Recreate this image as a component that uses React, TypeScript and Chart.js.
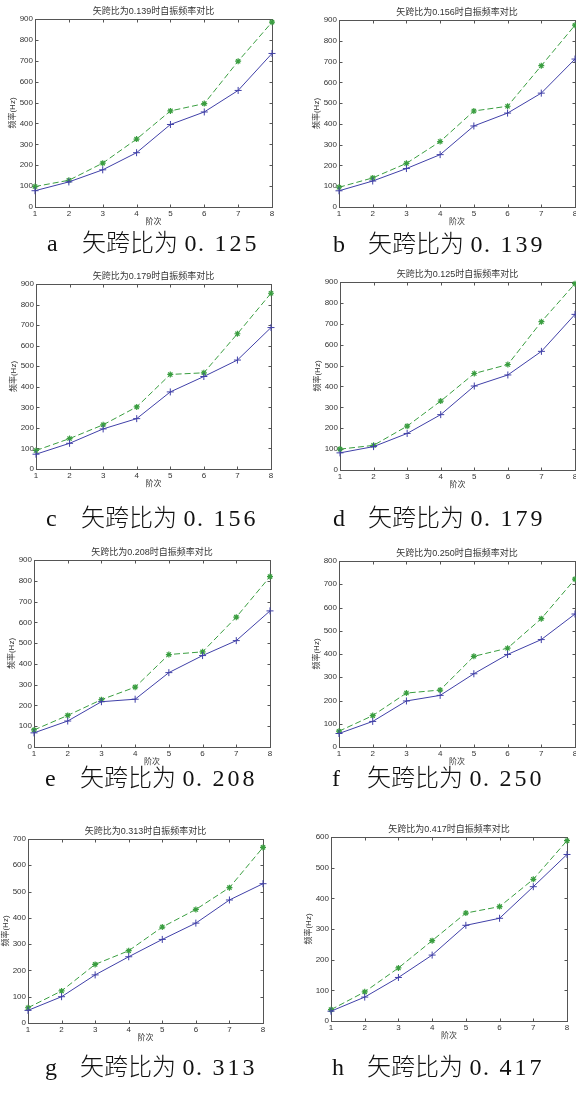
import React, { useEffect, useRef } from "react";
import { Chart, registerables } from "chart.js";
Chart.register(...registerables);

// ---------- data ----------
const orders = [1, 2, 3, 4, 5, 6, 7, 8];

const blueA = [78, 120, 178, 260, 395, 455, 558, 735];
const greenA = [98, 128, 210, 325, 460, 495, 698, 885];
const blueB = [78, 125, 185, 252, 390, 452, 548, 712];
const greenB = [95, 140, 210, 315, 462, 485, 680, 875];
const blueC = [72, 125, 195, 245, 375, 450, 530, 688];
const greenC = [90, 148, 215, 302, 460, 468, 658, 855];
const blueD = [82, 112, 175, 265, 402, 455, 568, 745];
const greenD = [100, 118, 210, 330, 462, 505, 710, 892];
const blueE = [68, 125, 218, 230, 358, 440, 512, 655];
const greenE = [82, 152, 228, 288, 445, 458, 625, 820];
const blueF = [58, 110, 198, 222, 315, 398, 462, 572];
const greenF = [68, 135, 232, 245, 390, 425, 552, 722];
const blueG = [48, 100, 183, 252, 318, 380, 468, 530];
const greenG = [58, 122, 223, 275, 365, 432, 515, 668];
const blueH = [32, 78, 142, 215, 312, 335, 438, 543];
const greenH = [37, 95, 173, 262, 352, 373, 462, 588];

const titles = [
  "矢跨比为0.139时自振频率对比",
  "矢跨比为0.156时自振频率对比",
  "矢跨比为0.179时自振频率对比",
  "矢跨比为0.125时自振频率对比",
  "矢跨比为0.208时自振频率对比",
  "矢跨比为0.250时自振频率对比",
  "矢跨比为0.313时自振频率对比",
  "矢跨比为0.417时自振频率对比",
];
const captionLetters = ["a", "b", "c", "d", "e", "f", "g", "h"];
const captionValues = ["0.125", "0.139", "0.156", "0.179", "0.208", "0.250", "0.313", "0.417"];
const yMaxes = [900, 900, 900, 900, 900, 800, 700, 600];
const xTitle = "阶次";
const yTitle = "频率(Hz)";

const blues = [blueA, blueB, blueC, blueD, blueE, blueF, blueG, blueH];
const greens = [greenA, greenB, greenC, greenD, greenE, greenF, greenG, greenH];

// ---------- layout (page px) ----------
// plot rectangles: [left, top, right, bottom]
const plotRects = [
  [35, 19, 272, 207],
  [339, 20, 575, 207],
  [36, 284, 271, 469],
  [340, 282, 575, 470],
  [34, 560, 270, 747],
  [339, 561, 575, 747],
  [28, 839, 263, 1023],
  [331, 837, 567, 1021],
];
// caption: [letterX, centerY]
const captionPos = [
  [47, 242],
  [333, 243],
  [46, 517],
  [333, 517],
  [45, 777],
  [332, 777],
  [45, 1066],
  [332, 1066],
];

const PAD_L = 40;
const PAD_T = 20;
const PAD_R = 8;
const PAD_B = 30;

const BLUE = "#4040a8";
const GREEN = "#3a9e40";
const AXIS = "#555";
const TEXT = "#333";
const SANS = '"Liberation Sans", "Noto Sans CJK SC", sans-serif';

const framePlugin = {
  id: "matlabFrame",
  beforeDatasetsDraw(chart: any) {
    const { ctx, chartArea: a, scales } = chart;
    const l = Math.round(a.left) + 0.5;
    const t = Math.round(a.top) + 0.5;
    const r = Math.round(a.right) + 0.5;
    const b = Math.round(a.bottom) + 0.5;
    ctx.save();
    ctx.strokeStyle = AXIS;
    ctx.lineWidth = 1;
    ctx.strokeRect(l, t, r - l, b - t);
    const TL = 3;
    ctx.beginPath();
    scales.x.ticks.forEach((tk: any) => {
      const x = Math.round(scales.x.getPixelForValue(tk.value)) + 0.5;
      ctx.moveTo(x, b);
      ctx.lineTo(x, b - TL);
      ctx.moveTo(x, t);
      ctx.lineTo(x, t + TL);
    });
    scales.y.ticks.forEach((tk: any) => {
      const y = Math.round(scales.y.getPixelForValue(tk.value)) + 0.5;
      ctx.moveTo(l, y);
      ctx.lineTo(l + TL, y);
      ctx.moveTo(r, y);
      ctx.lineTo(r - TL, y);
    });
    ctx.stroke();
    ctx.restore();
  },
  afterDraw(chart: any) {
    const { ctx, chartArea: a } = chart;
    const title = chart.options.plugins.matlabFrame.title;
    const midX = (a.left + a.right) / 2;
    const midY = (a.top + a.bottom) / 2;
    ctx.save();
    ctx.fillStyle = TEXT;
    ctx.textAlign = "center";
    ctx.textBaseline = "middle";
    ctx.font = `9px ${SANS}`;
    ctx.fillText(title, midX, a.top - 7);
    ctx.font = `8px ${SANS}`;
    ctx.fillText(xTitle, midX, a.bottom + 15);
    ctx.translate(a.left - 22, midY);
    ctx.rotate(-Math.PI / 2);
    ctx.fillText(yTitle, 0, 0);
    ctx.restore();
  },
};

function Panel({ idx }: { idx: number }) {
  const ref = useRef<HTMLCanvasElement | null>(null);
  const [L, T, R, B] = plotRects[idx];
  const W = R - L + PAD_L + PAD_R;
  const H = B - T + PAD_T + PAD_B;

  useEffect(() => {
    if (!ref.current) return;
    const chart = new Chart(ref.current, {
      type: "line",
      data: {
        datasets: [
          {
            data: orders.map((o, i) => ({ x: o, y: blues[idx][i] })),
            borderColor: BLUE,
            backgroundColor: BLUE,
            borderWidth: 1,
            pointStyle: "cross",
            pointRadius: 3.5,
            pointBorderWidth: 1,
            pointBorderColor: BLUE,
            fill: false,
            tension: 0,
            clip: false,
          },
          {
            data: orders.map((o, i) => ({ x: o, y: greens[idx][i] })),
            borderColor: GREEN,
            backgroundColor: GREEN,
            borderWidth: 1,
            borderDash: [6, 3],
            pointStyle: "star",
            pointRadius: 3,
            pointBorderWidth: 1.2,
            pointBorderColor: GREEN,
            fill: false,
            tension: 0,
            clip: false,
          },
        ],
      },
      options: {
        animation: false,
        responsive: false,
        devicePixelRatio: 1,
        layout: { padding: { left: 0, top: PAD_T, right: PAD_R, bottom: 0 } },
        plugins: {
          legend: { display: false },
          tooltip: { enabled: false },
          matlabFrame: { title: titles[idx] },
        } as any,
        scales: {
          x: {
            type: "linear",
            min: 1,
            max: 8,
            grid: { display: false, drawTicks: false },
            border: { display: false },
            ticks: {
              stepSize: 1,
              padding: 2,
              color: TEXT,
              font: { family: SANS, size: 8 },
              maxRotation: 0,
            },
            afterFit(scale: any) {
              scale.height = PAD_B;
            },
          },
          y: {
            type: "linear",
            min: 0,
            max: yMaxes[idx],
            grid: { display: false, drawTicks: false },
            border: { display: false },
            ticks: {
              stepSize: 100,
              padding: 2,
              color: TEXT,
              font: { family: SANS, size: 8 },
            },
            afterFit(scale: any) {
              scale.width = PAD_L;
            },
          },
        },
      },
      plugins: [framePlugin],
    } as any);
    return () => chart.destroy();
  }, [idx]);

  return (
    <canvas
      ref={ref}
      width={W}
      height={H}
      style={{ position: "absolute", left: L - PAD_L, top: T - PAD_T, width: W, height: H }}
    />
  );
}

function Caption({ idx }: { idx: number }) {
  const [x, cy] = captionPos[idx];
  const value = captionValues[idx];
  return (
    <div
      style={{
        position: "absolute",
        left: x,
        top: cy - 13,
        height: 24,
        lineHeight: "24px",
        whiteSpace: "nowrap",
        color: "#111",
        fontSize: 24,
        fontFamily: '"Noto Sans CJK SC", sans-serif',
      }}
    >
      <span style={{ fontFamily: '"Liberation Serif", serif', display: "inline-block", width: 35 }}>
        {captionLetters[idx]}
      </span>
      <span style={{ fontWeight: 300 }}>矢跨比为</span>
      <span style={{ display: "inline-block", width: 5 }} />
      <span style={{ fontFamily: '"Liberation Serif", serif' }}>
        {value.split("").map((ch, i) => (
          <span
            key={i}
            style={{ display: "inline-block", width: 15, textAlign: ch === "." ? "left" : "center" }}
          >
            {ch}
          </span>
        ))}
      </span>
    </div>
  );
}

export default function App() {
  const idxs = [0, 1, 2, 3, 4, 5, 6, 7];
  return (
    <div
      style={{
        position: "absolute",
        left: 0,
        top: 0,
        width: 576,
        height: 1094,
        overflow: "hidden",
        background: "#fff",
      }}
    >
      {idxs.map((i) => (
        <Panel key={"p" + i} idx={i} />
      ))}
      {idxs.map((i) => (
        <Caption key={"c" + i} idx={i} />
      ))}
    </div>
  );
}
